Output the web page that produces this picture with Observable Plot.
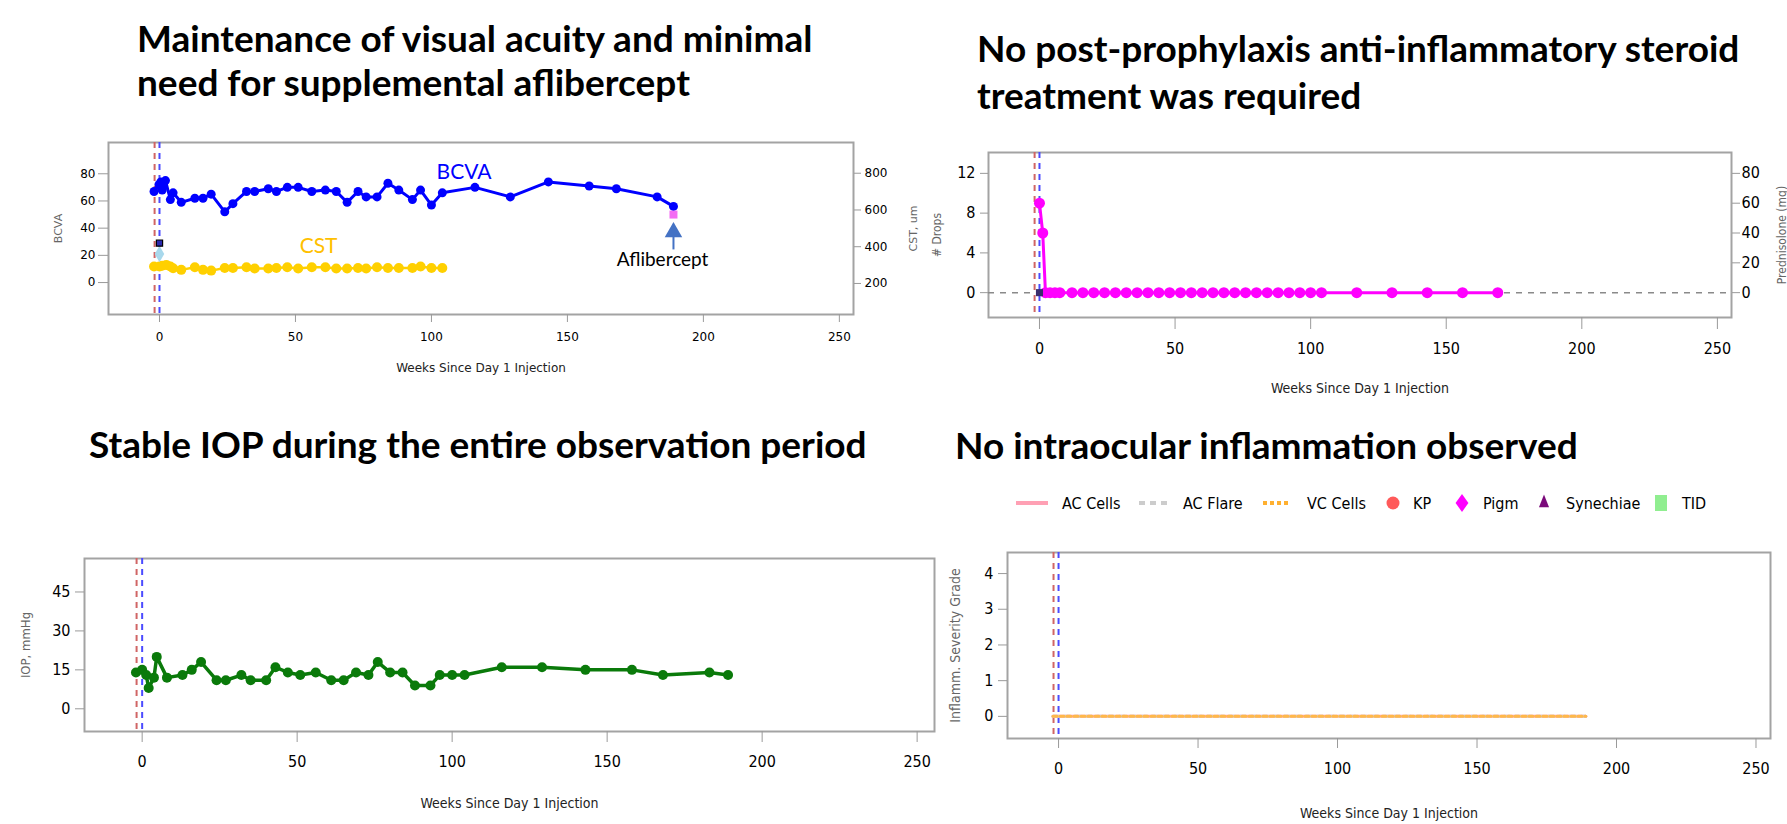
<!DOCTYPE html>
<html>
<head>
<meta charset="utf-8">
<script src="https://cdn.jsdelivr.net/npm/d3@7"></script>
<script src="https://cdn.jsdelivr.net/npm/@observablehq/plot@0.6"></script>
<style>
html, body { margin: 0; padding: 0; background: #fff; }
body { width: 1787px; height: 824px; overflow: hidden; position: relative; }
.title { position: absolute; font-family: Lato, "Open Sans", sans-serif; font-weight: 700; font-size: 37px; color: #000; white-space: nowrap; }
.panel { position: absolute; }
</style>
</head>
<body>
<div class="title" style="left:137px;top:16px;line-height:44px;">Maintenance of visual acuity and minimal<br>need for supplemental aflibercept</div>
<div class="title" style="left:977px;top:24px;line-height:47px;">No post-prophylaxis anti-inflammatory steroid<br>treatment was required</div>
<div class="title" style="left:89px;top:422px;line-height:44px;">Stable IOP during the entire observation period</div>
<div class="title" style="left:955px;top:423px;line-height:44px;">No intraocular inflammation observed</div>
<div class="panel" id="p1" style="left:0px;top:120px;"></div>
<div class="panel" id="p2" style="left:900px;top:130px;"></div>
<div class="panel" id="p3" style="left:0px;top:520px;"></div>
<div class="panel" id="p4" style="left:900px;top:520px;"></div>
<div class="panel" id="legend" style="left:0px;top:485px;"></div>
<script>
// ---------- DATA ----------
const xTicks = [0, 50, 100, 150, 200, 250];
const xLabel = "Weeks Since Day 1 Injection";
const prophylaxisWeek = [-1.8];
const day1Week = [0];

// Panel 1: BCVA (letters) and CST (um)
const weeksBCVA = [-2, -0.2, 0.5, 1, 1.5, 2.2, 4, 5, 8, 13, 16, 19, 24, 27, 32, 35, 40, 43, 47, 51, 56, 61, 65, 69, 73, 76, 80, 84, 88, 93, 96, 100, 104, 116, 129, 143, 158, 168, 183, 189];
const bcva = [67, 72, 74, 68, 71, 75, 61, 66, 59, 62, 62, 65, 52, 58, 67, 67, 69, 67, 70, 70, 67, 68, 67, 59, 67, 63, 63, 73, 68, 61, 68, 57, 66, 70, 63, 74, 71, 69, 63, 56];
const weeksCST = [-2, 0, 1, 2.5, 4, 5, 8, 13, 16, 19, 24, 27, 32, 35, 40, 43, 47, 51, 56, 61, 65, 69, 73, 76, 80, 84, 88, 93, 96, 100, 104];
const cstUm = [292, 292, 297, 301, 292, 283, 274, 288, 274, 270, 284, 284, 288, 281, 281, 284, 288, 281, 288, 288, 281, 281, 284, 281, 288, 284, 284, 284, 292, 284, 284];
const bcvaTicks = [0, 20, 40, 60, 80];
const cstTicks = [200, 400, 600, 800];
const aflibWeek = [189];
const aflibMarkerValue = [50];
const aflibArrowTip = [40];
const aflibArrowBase = [24];
const aflibTextValue = [17];
const aflibTextWeek = [185];
const day1Square = [{week: 0, value: 29}];
const day1Diamond = [{week: 0, value: 21}];
const seriesLabels = [
  {text: "BCVA", week: 112, value: 81, color: "#0000ff"},
  {text: "CST", week: 58.5, value: 26.5, color: "#ffc000"}
];

// Panel 2: steroid drops
const weeksDrops = [0, 1.2, 2.2, 3.9, 5.7, 7.5, 12, 16, 20, 24, 28, 32, 36, 40, 44, 48, 52, 56, 60, 64, 68, 72, 76, 80, 84, 88, 92, 96, 100, 104, 117, 130, 143, 156, 169];
const drops = [9, 6, 0, 0, 0, 0, 0, 0, 0, 0, 0, 0, 0, 0, 0, 0, 0, 0, 0, 0, 0, 0, 0, 0, 0, 0, 0, 0, 0, 0, 0, 0, 0, 0, 0];
const dropTicks = [0, 4, 8, 12];
const predTicks = [0, 20, 40, 60, 80];
const day1DropMarker = [{week: 0, value: 0}];

// Panel 3: IOP
const weeksIOP = [-2, 0, 1.3, 2.1, 3.8, 4.7, 8, 13, 16, 19, 24, 27, 32, 35, 40, 43, 47, 51, 56, 61, 65, 69, 73, 76, 80, 84, 88, 93, 96, 100, 104, 116, 129, 143, 158, 168, 183, 189];
const iop = [14, 15, 13, 8, 12, 20, 12, 13, 15, 18, 11, 11, 13, 11, 11, 16, 14, 13, 14, 11, 11, 14, 13, 18, 14, 14, 9, 9, 13, 13, 13, 16, 16, 15, 15, 13, 14, 13];
const iopTicks = [0, 15, 30, 45];

// Panel 4: inflammation grades
const weeksInfl = [-2, 0, 1.3, 2.1, 3.8, 4.7, 8, 13, 16, 19, 24, 27, 32, 35, 40, 43, 47, 51, 56, 61, 65, 69, 73, 76, 80, 84, 88, 93, 96, 100, 104, 116, 129, 143, 158, 168, 183, 189];
const acCells = [0, 0, 0, 0, 0, 0, 0, 0, 0, 0, 0, 0, 0, 0, 0, 0, 0, 0, 0, 0, 0, 0, 0, 0, 0, 0, 0, 0, 0, 0, 0, 0, 0, 0, 0, 0, 0, 0];
const acFlare = [0, 0, 0, 0, 0, 0, 0, 0, 0, 0, 0, 0, 0, 0, 0, 0, 0, 0, 0, 0, 0, 0, 0, 0, 0, 0, 0, 0, 0, 0, 0, 0, 0, 0, 0, 0, 0, 0];
const vcCells = [0, 0, 0, 0, 0, 0, 0, 0, 0, 0, 0, 0, 0, 0, 0, 0, 0, 0, 0, 0, 0, 0, 0, 0, 0, 0, 0, 0, 0, 0, 0, 0, 0, 0, 0, 0, 0, 0];
const gradeTicks = [0, 1, 2, 3, 4];
const legendNames = ["AC Cells", "AC Flare", "VC Cells", "KP", "Pigm", "Synechiae", "TID"];

// ---------- HELPERS ----------
const zip = (xs, ys) => xs.map((x, i) => ({week: x, value: ys[i]}));
const FRAME = "#a3a3a3";
const TICK = "#9a9a9a";
const RED = "#d06565";
const BLUE = "#4b4bff";
const condensed = "'DejaVu Sans Condensed', 'DejaVu Sans', sans-serif";
const refLines = () => [
  Plot.ruleX(prophylaxisWeek, {stroke: RED, strokeWidth: 2, strokeDasharray: "6,5"}),
  Plot.ruleX(day1Week, {stroke: BLUE, strokeWidth: 2, strokeDasharray: "6,5"})
];
const yLabel = (txt, side, dx, size) => Plot.text([txt], {frameAnchor: side, dx, rotate: -90, text: d => d, fill: "#666", fontSize: size, textAnchor: "middle", lineAnchor: "middle"});
const xLab = (dy, size) => Plot.text([xLabel], {frameAnchor: "bottom", dy, text: d => d, fill: "#222", fontSize: size, textAnchor: "middle", lineAnchor: "middle"});

// ---------- PANEL 1 ----------
const cstToLeft = c => (c - 205) / 7.4;
const leftToCst = v => Math.round(v * 7.4 + 205);
const cstData = weeksCST.map((w, i) => ({week: w, value: cstToLeft(cstUm[i])}));
const p1 = Plot.plot({
  width: 960, height: 270,
  marginLeft: 108, marginRight: 107, marginTop: 22, marginBottom: 76,
  x: {domain: [-18.75, 255.2]},
  y: {domain: [-23.5, 103]},
  style: {fontFamily: "'DejaVu Sans', sans-serif", fontSize: "12px", color: "#000", background: "transparent", overflow: "visible"},
  marks: [
    Plot.frame({stroke: FRAME, strokeWidth: 2}),
    ...refLines(),
    Plot.axisX({ticks: xTicks, tickSize: 8, tickPadding: 10, stroke: TICK, fill: "#000", label: null}),
    Plot.axisY({ticks: bcvaTicks, tickSize: 10, tickPadding: 3, stroke: TICK, fill: "#000", label: null}),
    Plot.axisY({anchor: "right", ticks: cstTicks.map(cstToLeft), tickFormat: leftToCst, tickSize: 7, tickPadding: 4, stroke: TICK, fill: "#000", label: null}),
    Plot.line(cstData, {x: "week", y: "value", stroke: "#ffd000", strokeWidth: 2.5}),
    Plot.dot(cstData, {x: "week", y: "value", fill: "#ffd000", r: 5}),
    Plot.line(zip(weeksBCVA, bcva), {x: "week", y: "value", stroke: "#0000ff", strokeWidth: 3}),
    Plot.dot(zip(weeksBCVA, bcva), {x: "week", y: "value", fill: "#0000ff", r: 4.5}),
    Plot.dot(day1Diamond, {x: "week", y: "value", symbol: "diamond", fill: "#a8d8ec", r: 5}),
    Plot.dot(day1Square, {x: "week", y: "value", symbol: "square", fill: "#2a2ab0", stroke: "#000", strokeWidth: 1.2, r: 3.5}),
    Plot.dot(zip(aflibWeek, aflibMarkerValue), {x: "week", y: "value", symbol: "square", fill: "#f36cf3", r: 4.5}),
    Plot.ruleX(aflibWeek, {y1: aflibArrowBase, y2: aflibArrowTip.map(v => v - 5), stroke: "#4472c4", strokeWidth: 2}),
    Plot.dot(zip(aflibWeek, aflibArrowTip), {x: "week", y: "value", symbol: "triangle", fill: "#4472c4", r: 6.5, dy: 4}),
    Plot.text(zip(aflibTextWeek, aflibTextValue), {x: "week", y: "value", text: () => "Aflibercept", fontSize: 19, fontFamily: "Lato, 'Open Sans', sans-serif", fill: "#000"}),
    Plot.text(seriesLabels, {x: "week", y: "value", text: "text", fill: "color", fontSize: 21, fontFamily: "Lato, 'Open Sans', sans-serif"}),
    yLabel("BCVA", "left", -50, 11),
    yLabel("CST, um", "right", 60, 11),
    xLab(54, 12)
  ]
});
document.getElementById("p1").appendChild(p1);

// ---------- PANEL 2 ----------
const predToLeft = p => p * 12 / 80;
const leftToPred = v => Math.round(v * 80 / 12);
const p2 = Plot.plot({
  width: 887, height: 280,
  marginLeft: 88, marginRight: 56, marginTop: 22, marginBottom: 93,
  x: {domain: [-18.8, 255.2]},
  y: {domain: [-2.5, 14.1]},
  style: {fontFamily: condensed, fontStretch: "condensed", fontSize: "16px", color: "#000", background: "transparent", overflow: "visible"},
  marks: [
    Plot.frame({stroke: FRAME, strokeWidth: 2}),
    Plot.ruleY([0], {stroke: "#8a8a8a", strokeWidth: 1.5, strokeDasharray: "6,6"}),
    ...refLines(),
    Plot.axisX({ticks: xTicks, tickSize: 12, tickPadding: 13, stroke: TICK, fill: "#000", label: null}),
    Plot.axisY({ticks: dropTicks, tickSize: 8, tickPadding: 5, stroke: TICK, fill: "#000", label: null}),
    Plot.axisY({anchor: "right", ticks: predTicks.map(predToLeft), tickFormat: leftToPred, tickSize: 8, tickPadding: 2, stroke: TICK, fill: "#000", label: null}),
    Plot.line(zip(weeksDrops, drops), {x: "week", y: "value", stroke: "#ff00ff", strokeWidth: 3}),
    Plot.dot(zip(weeksDrops, drops), {x: "week", y: "value", fill: "#ff00ff", r: 5.5}),
    Plot.dot(day1DropMarker, {x: "week", y: "value", symbol: "square", fill: "#3a2e6e", r: 4}),
    yLabel("# Drops", "left", -51, 12),
    yLabel("Prednisolone (mg)", "right", 51, 12),
    xLab(71, 14)
  ]
});
document.getElementById("p2").appendChild(p2);

// ---------- PANEL 3 ----------
const p3 = Plot.plot({
  width: 960, height: 304,
  marginLeft: 84, marginRight: 26, marginTop: 38, marginBottom: 93,
  x: {domain: [-18.6, 255.6]},
  y: {domain: [-8.75, 57.9]},
  style: {fontFamily: condensed, fontStretch: "condensed", fontSize: "16px", color: "#000", background: "transparent", overflow: "visible"},
  marks: [
    Plot.frame({stroke: FRAME, strokeWidth: 2}),
    ...refLines(),
    Plot.axisX({ticks: xTicks, tickSize: 11, tickPadding: 13, stroke: TICK, fill: "#000", label: null}),
    Plot.axisY({ticks: iopTicks, tickSize: 9, tickPadding: 5, stroke: TICK, fill: "#000", label: null}),
    Plot.line(zip(weeksIOP, iop), {x: "week", y: "value", stroke: "#0a7a0a", strokeWidth: 3.5}),
    Plot.dot(zip(weeksIOP, iop), {x: "week", y: "value", fill: "#0a7a0a", r: 5}),
    yLabel("IOP, mmHg", "left", -59, 13),
    xLab(72, 14)
  ]
});
document.getElementById("p3").appendChild(p3);

// ---------- PANEL 4 ----------
const p4 = Plot.plot({
  width: 887, height: 304,
  marginLeft: 107, marginRight: 17, marginTop: 32, marginBottom: 86,
  x: {domain: [-18.3, 255.2]},
  y: {domain: [-0.62, 4.59]},
  style: {fontFamily: condensed, fontStretch: "condensed", fontSize: "16px", color: "#000", background: "transparent", overflow: "visible"},
  marks: [
    Plot.frame({stroke: FRAME, strokeWidth: 2}),
    ...refLines(),
    Plot.axisX({ticks: xTicks, tickSize: 10, tickPadding: 14, stroke: TICK, fill: "#000", label: null}),
    Plot.axisY({ticks: gradeTicks, tickFormat: d3.format("d"), tickSize: 9, tickPadding: 5, stroke: TICK, fill: "#000", label: null}),
    Plot.line(zip(weeksInfl, acCells), {x: "week", y: "value", stroke: "#ffa0b4", strokeWidth: 3}),
    Plot.line(zip(weeksInfl, acFlare), {x: "week", y: "value", stroke: "#d0d0d0", strokeWidth: 3, strokeDasharray: "6,5"}),
    Plot.line(zip(weeksInfl, vcCells), {x: "week", y: "value", stroke: "#ffb84a", strokeWidth: 3, strokeDasharray: "4,3"}),
    yLabel("Inflamm. Severity Grade", "left", -52, 14),
    xLab(75, 14)
  ]
});
document.getElementById("p4").appendChild(p4);

// ---------- LEGEND (panel 4) ----------
const lg = d3.select("#legend").append("svg").attr("width", 1787).attr("height", 36)
  .style("font-family", condensed).style("font-stretch", "condensed").style("font-size", "16px");
const cy = 18;
const swatchX = [1016, 1139, 1263, 1393, 1462, 1544, 1661];
const textX = [1062, 1183, 1307, 1413, 1483, 1566, 1682];
lg.append("line").attr("x1", swatchX[0]).attr("x2", swatchX[0] + 32).attr("y1", cy).attr("y2", cy).attr("stroke", "#ffa0b4").attr("stroke-width", 4);
lg.append("line").attr("x1", swatchX[1]).attr("x2", swatchX[1] + 30).attr("y1", cy).attr("y2", cy).attr("stroke", "#cccccc").attr("stroke-width", 4).attr("stroke-dasharray", "6,5");
lg.append("line").attr("x1", swatchX[2]).attr("x2", swatchX[2] + 28).attr("y1", cy).attr("y2", cy).attr("stroke", "#ffb030").attr("stroke-width", 4).attr("stroke-dasharray", "4,3");
lg.append("circle").attr("cx", swatchX[3]).attr("cy", cy).attr("r", 6.5).attr("fill", "#ff5a5a");
lg.append("path").attr("d", d3.symbol(d3.symbolDiamond2, 130)()).attr("transform", `translate(${swatchX[4]},${cy}) scale(0.9,1.25)`).attr("fill", "#ff00ff");
lg.append("path").attr("d", d3.symbol(d3.symbolTriangle2, 90)()).attr("transform", `translate(${swatchX[5]},${cy}) scale(0.9,1.3)`).attr("fill", "#7a0a7a");
lg.append("rect").attr("x", swatchX[6] - 6).attr("y", cy - 8).attr("width", 12).attr("height", 16).attr("fill", "#90ee90");
legendNames.forEach((n, i) => {
  lg.append("text").attr("x", textX[i]).attr("y", cy).attr("dy", "0.35em").attr("fill", "#000").text(n);
});
</script>
</body>
</html>
